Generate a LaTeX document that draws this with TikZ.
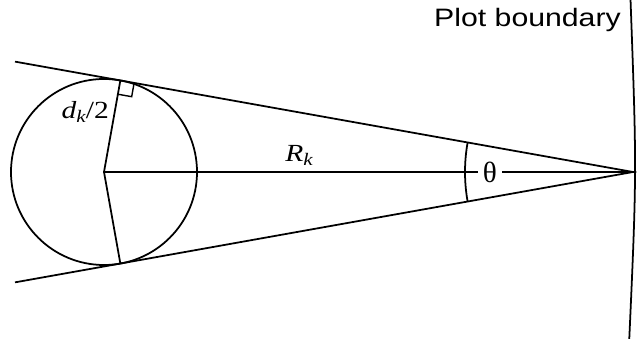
\documentclass[tikz,border=0pt]{standalone}
\usepackage{fontspec}
\setmainfont{Liberation Serif}
\setsansfont{Liberation Sans}
\usepackage{graphicx}
\usetikzlibrary{calc,positioning}
\tikzset{
  geo/.style={line width=1.5pt,color=black},
  serif/.style={font=\fontsize{21}{23}\selectfont,inner sep=0pt},
  sanslbl/.style={font=\sffamily\fontsize{21.5}{24}\selectfont,inner sep=0pt}
}
\newcommand{\wide}[1]{\scalebox{1.2}[1]{#1}}
\newcommand{\subk}{\raisebox{-0.3ex}{\fontsize{15}{15}\selectfont\itshape k}}

\begin{document}
\begin{tikzpicture}[x=0.03cm,y=0.03cm]
  \useasboundingbox (0,0) rectangle (637,339);
  %% circle and apex
  \coordinate (C) at (104,167);
  \coordinate (A) at (633,167);
  \coordinate (T) at ($(C)+(79.87:93)$);
  \coordinate (B) at ($(C)+(-79.87:93)$);
  \coordinate (Tend) at ($(A)!1.2055!(T)$);
  \coordinate (Bend) at ($(A)!1.2055!(B)$);
  \coordinate (btop) at (630.5,340);
  \coordinate (bbot) at (629,-6);

  \draw[geo] (C) circle[radius=93];
  \draw[geo] (Tend) -- (A) -- (Bend);
  \draw[geo] (T) -- (C) -- (B);
  \draw[geo] (C) -- (A);

  %% right angle mark
  \coordinate (Ta) at ($(T)!0.42cm!(A)$);
  \coordinate (Tc) at ($(T)!0.42cm!(C)$);
  \draw[geo,line width=1.2pt] (Ta) -- ($(Ta)+(Tc)-(T)$) -- (Tc);

  %% angle and boundary
  \draw[geo] ($(A)+(169.87:168)$) arc[start angle=169.87,end angle=190.13,radius=168];
  \draw[geo] (btop) .. controls (636.8,167) .. (bbot);

  %% labels
  \node[serif,font=\fontsize{25}{27}\selectfont,fill=white,inner xsep=4pt,inner ysep=2pt] (theta) at (490,167) {θ};
  \node[serif,anchor=base east] (dlbl) at (109,220) {\wide{\textit{d}\subk/2}};
  \node[serif,anchor=base] (Rlbl) at (299,177) {\wide{\textit{R}\subk}};
  \node[sanslbl,anchor=base east] (plbl) at (621,312) {\wide{Plot boundary}};
\end{tikzpicture}
\end{document}
